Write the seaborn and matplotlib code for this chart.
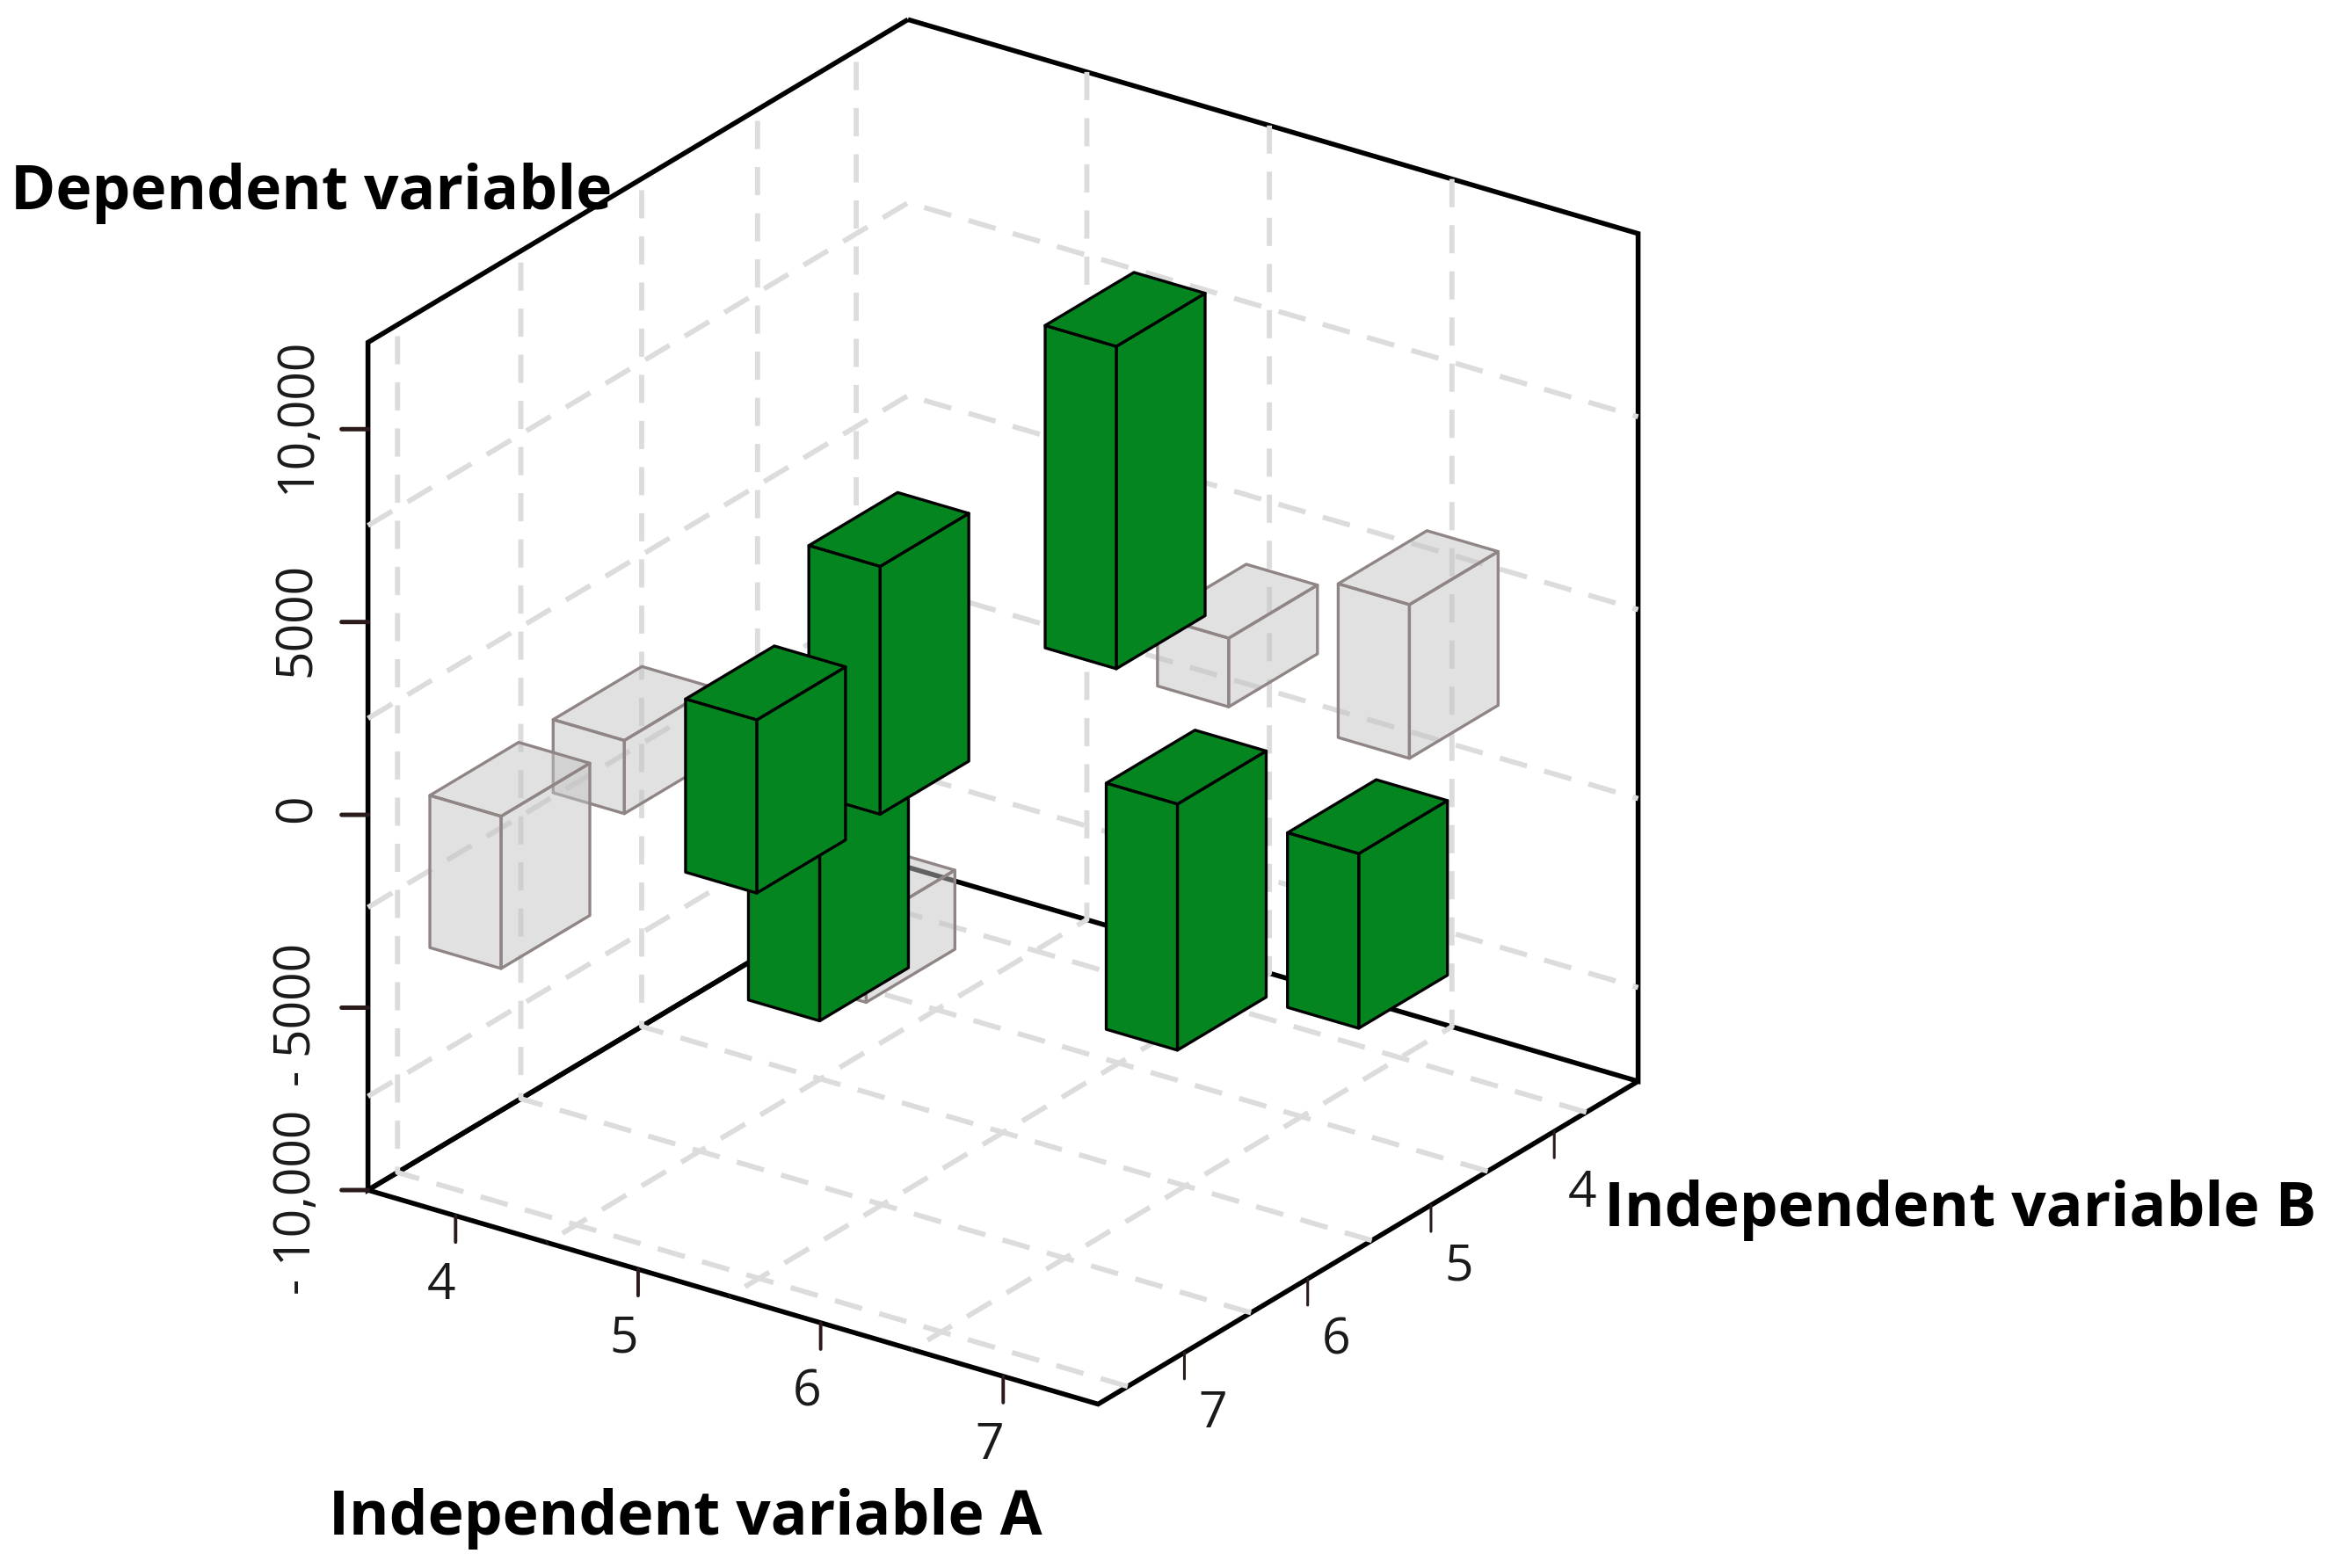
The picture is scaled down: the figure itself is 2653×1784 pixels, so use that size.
import matplotlib
matplotlib.use("Agg")
import matplotlib.pyplot as plt
import seaborn as sns
from matplotlib.colors import to_rgba
from mpl_toolkits.mplot3d import proj3d
from mpl_toolkits.mplot3d.art3d import Poly3DCollection

# bars, back to front (this is also the drawing order)
bar_a = [6.95, 5.96, 6.02, 6.0, 5.07, 4.05, 4.0, 4.05, 4.0, 7.03, 7.01]
bar_b = [4.26, 4.26, 5.26, 7.26, 6.26, 4.26, 6.26, 5.26, 7.26, 6.26, 4.76]
bar_low = [607, 569, 3552, -1304, -4985, -4865, -1096, -4997, -3201, -3026, -5352]
bar_high = [4593, 2349, 11911, 746, 1052, 1560, 801, -508, 746, 3355, -825]
bar_kind = ["grey", "grey", "green", "grey", "green", "green", "grey", "green", "grey", "green", "green"]
width_a = 0.39
width_b = 0.72

a_ticks = [4, 5, 6, 7]
b_ticks = [4, 5, 6, 7]
z_ticks = [-10000, -5000, 0, 5000, 10000]
z_labels = ["- 10,000", "- 5000", "0", "5000", "10,000"]
z_label_shift = [-14, -8, 7, 3, 16]

# the dashed grid sits between the ticks
a_grid = [4.5, 5.5, 6.5]
b_grid = [3.74, 4.54, 5.48, 6.46, 7.46]
z_grid = [-7300, -2400, 2500, 7500]

a_lim = (3.52, 7.52)
b_lim = (3.32, 7.7)
z_lim = (-9730, 12250)

sns.set_theme(style="white")
plt.rcParams["font.family"] = ["Open Sans", "DejaVu Sans"]

W, H = 2653, 1784
PT = 0.72  # px to pt at dpi 100
fig = plt.figure(figsize=(W / 100, H / 100), dpi=100, facecolor="white")
ax = fig.add_axes([225 / W, 58 / H, H / W, 1.0], projection="3d", computed_zorder=False)
ax.patch.set_visible(False)
ax.set_proj_type("ortho")
ax.view_init(elev=24.75, azim=35)

# x is variable B, y is variable A
ax.set_xlim(*b_lim, view_margin=0)
ax.set_ylim(*a_lim, view_margin=0)
ax.set_zlim(*z_lim, view_margin=0)
ax.set_box_aspect((1071, 1014, 1062), zoom=0.989)

ax.set_xticks(b_grid)
ax.set_yticks(a_grid)
ax.set_zticks(z_grid)
ax.set_xticklabels([])
ax.set_yticklabels([])
ax.set_zticklabels([])

for axis in (ax.xaxis, ax.yaxis, ax.zaxis):
    axis.pane.fill = False
    axis.pane.set_alpha(1)
    axis.pane.set_edgecolor("black")
    axis.pane.set_linewidth(4.0)
    axis.line.set_color((0, 0, 0, 0))
    axis._axinfo["grid"].update(color="#dcdcdc", linewidth=4.2, linestyle=(0, (5.5, 3.5)))
    axis._axinfo["tick"].update(inward_factor=0, outward_factor=0)
    axis.set_tick_params(width=0, length=0)

colors = {
    "green": (to_rgba("#05851f"), "black", 2.4),
    "grey": (to_rgba("#c4c4c4", 0.5), "#8f8585", 2.4),
}

for i in range(len(bar_a)):
    x0, x1 = bar_b[i] - width_b / 2, bar_b[i] + width_b / 2
    y0, y1 = bar_a[i] - width_a / 2, bar_a[i] + width_a / 2
    lo, hi = bar_low[i], bar_high[i]
    # only the three faces you can see
    faces = [
        [(x0, y0, hi), (x1, y0, hi), (x1, y1, hi), (x0, y1, hi)],
        [(x1, y0, lo), (x1, y1, lo), (x1, y1, hi), (x1, y0, hi)],
        [(x0, y1, lo), (x1, y1, lo), (x1, y1, hi), (x0, y1, hi)],
    ]
    face, edge, lw = colors[bar_kind[i]]
    box = Poly3DCollection(faces, facecolors=[face] * 3, edgecolors=edge, linewidths=lw, zorder=10 + i)
    ax.add_collection3d(box, autolim=False)


def put_tick(x, y, z, dx, dy, lw):
    xs, ys, _ = proj3d.proj_transform(x, y, z, ax.get_proj())
    ax.annotate("", xy=(xs, ys), xytext=(dx * PT, dy * PT), textcoords="offset points",
                arrowprops=dict(arrowstyle="-", color="#2a1a1a", lw=lw, shrinkA=0, shrinkB=0))


def put_label(text, x, y, z, dx, dy, rotation=0):
    xs, ys, _ = proj3d.proj_transform(x, y, z, ax.get_proj())
    ax.annotate(text, xy=(xs, ys), xytext=(dx * PT, dy * PT), textcoords="offset points",
                ha="center", va="center", fontsize=41, color="#1a1a1a", rotation=rotation)


for a in a_ticks:
    put_tick(b_lim[1], a, z_lim[0], 0, -30, 2.8)
    put_label(str(a), b_lim[1], a, z_lim[0], -16, -80)
for b in b_ticks:
    put_tick(b, a_lim[1], z_lim[0], 0, -30, 2.2)
    put_label(str(b), b, a_lim[1], z_lim[0], 32, -71)
for z, text, shift in zip(z_ticks, z_labels, z_label_shift):
    # the lowest tick sits on the corner of the box
    zt = max(z, z_lim[0])
    put_tick(b_lim[1], a_lim[0], zt, -30, 0, 3.6)
    put_label(text, b_lim[1], a_lim[0], zt, -80, shift, rotation=90)

fig.text(780 / W, 1 - 1728 / H, "Independent variable A", fontsize=50, fontweight="bold",
         ha="center", va="center", color="black")
fig.text(2230 / W, 1 - 1377 / H, "Independent variable B", fontsize=50, fontweight="bold",
         ha="center", va="center", color="black")
fig.text(354 / W, 1 - 220 / H, "Dependent variable", fontsize=50, fontweight="bold",
         ha="center", va="center", color="black")

fig.savefig("out.png", dpi=100, facecolor="white")
